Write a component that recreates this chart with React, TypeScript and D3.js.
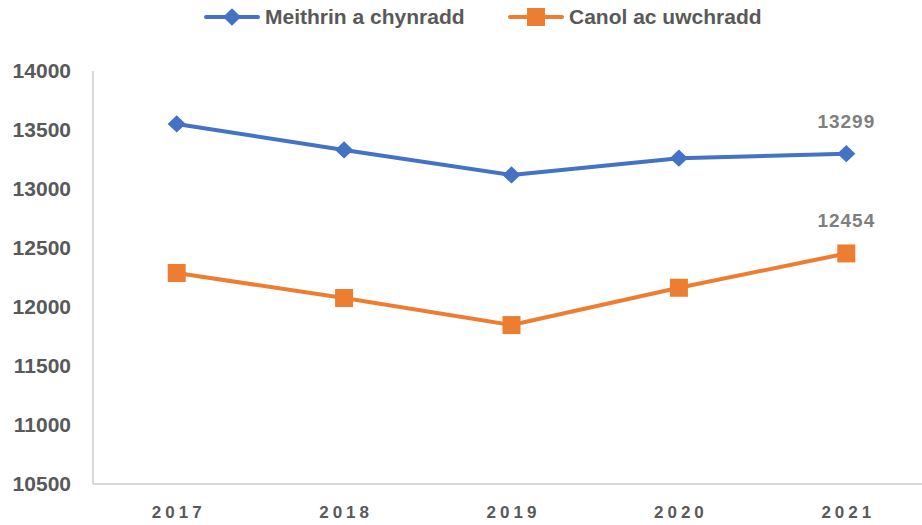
import React, { useRef, useEffect } from 'react';
import * as d3 from 'd3';

const years = ['2017', '2018', '2019', '2020', '2021'];
const primary = [13551, 13331, 13119, 13261, 13299];
const secondary = [12288, 12076, 11847, 12163, 12454];
const yTicks = [10500, 11000, 11500, 12000, 12500, 13000, 13500, 14000];

const seriesNames = ['Meithrin a chynradd', 'Canol ac uwchradd'];
const seriesColors = ['#4472C4', '#ED7D31'];

const W = 922;
const H = 525;

const App = () => {
  const svgRef = useRef<SVGSVGElement | null>(null);

  useEffect(() => {
    if (!svgRef.current) return;
    const svg = d3.select(svgRef.current);
    svg.selectAll('*').remove();

    const left = 93;
    const right = 930;
    const top = 71;
    const bottom = 484;

    const x = d3.scaleBand().domain(years).range([left, right]);
    const y = d3.scaleLinear().domain([10500, 14000]).range([bottom, top]);
    const cx = (d: string) => (x(d) as number) + x.bandwidth() / 2;

    // axis lines
    svg.append('line')
      .attr('x1', left).attr('x2', left)
      .attr('y1', top).attr('y2', bottom)
      .attr('stroke', '#d9d9d9').attr('stroke-width', 2);
    svg.append('line')
      .attr('x1', left).attr('x2', W)
      .attr('y1', bottom).attr('y2', bottom)
      .attr('stroke', '#d9d9d9').attr('stroke-width', 2);

    // y tick labels
    svg.selectAll('.ytick')
      .data(yTicks)
      .enter()
      .append('text')
      .attr('x', 71)
      .attr('y', d => y(d) + 7)
      .attr('text-anchor', 'end')
      .attr('font-family', 'Liberation Sans, Arial, sans-serif')
      .attr('font-weight', 'bold')
      .attr('font-size', '21px')
      .attr('fill', '#595959')
      .text(d => d);

    // x tick labels
    svg.selectAll('.xtick')
      .data(years)
      .enter()
      .append('text')
      .attr('x', d => cx(d) + 2)
      .attr('y', 518)
      .attr('text-anchor', 'middle')
      .attr('font-family', 'Liberation Sans, Arial, sans-serif')
      .attr('font-weight', 'bold')
      .attr('font-size', '17px')
      .attr('letter-spacing', '4px')
      .attr('fill', '#595959')
      .text(d => d);

    const line = d3.line<number>()
      .x((d, i) => cx(years[i]))
      .y(d => y(d));

    const drawMarker = (g: any, kind: number, px: number, py: number, color: string) => {
      if (kind === 0) {
        g.append('path')
          .attr('d', d3.symbol().type(d3.symbolDiamond2).size(190)())
          .attr('transform', `translate(${px},${py}) scale(1.05,1)`)
          .attr('fill', color);
      } else {
        g.append('rect')
          .attr('x', px - 9).attr('y', py - 9)
          .attr('width', 18).attr('height', 18)
          .attr('fill', color);
      }
    };

    [primary, secondary].forEach((vals, s) => {
      const color = seriesColors[s];
      svg.append('path')
        .datum(vals)
        .attr('d', line)
        .attr('fill', 'none')
        .attr('stroke', color)
        .attr('stroke-width', 4)
        .attr('stroke-linejoin', 'round');
      const g = svg.append('g');
      vals.forEach((v, i) => drawMarker(g, s, cx(years[i]), y(v), color));

      const last = vals.length - 1;
      svg.append('text')
        .attr('x', cx(years[last]))
        .attr('y', y(vals[last]) - 26)
        .attr('text-anchor', 'middle')
        .attr('font-family', 'Liberation Sans, Arial, sans-serif')
        .attr('font-weight', 'bold')
        .attr('font-size', '19px')
        .attr('letter-spacing', '1px')
        .attr('fill', '#7f7f7f')
        .text(vals[last]);
    });

    // legend
    const legendX = [206, 510];
    seriesNames.forEach((name, s) => {
      const lx = legendX[s];
      const ly = 17;
      const color = seriesColors[s];
      svg.append('line')
        .attr('x1', lx).attr('x2', lx + 52)
        .attr('y1', ly).attr('y2', ly)
        .attr('stroke', color).attr('stroke-width', 4)
        .attr('stroke-linecap', 'round');
      drawMarker(svg, s, lx + 26, ly, color);
      svg.append('text')
        .attr('x', lx + 59)
        .attr('y', ly + 7)
        .attr('font-family', 'Liberation Sans Narrow, Liberation Sans, Arial, sans-serif')
        .attr('font-weight', 'bold')
        .attr('font-size', '21px')
        .attr('fill', '#595959')
        .text(name);
    });
  }, []);

  return (
    <svg
      ref={svgRef}
      width={W}
      height={H}
      style={{ position: 'absolute', left: 0, top: 0, background: '#fff' }}
    />
  );
};

export default App;
